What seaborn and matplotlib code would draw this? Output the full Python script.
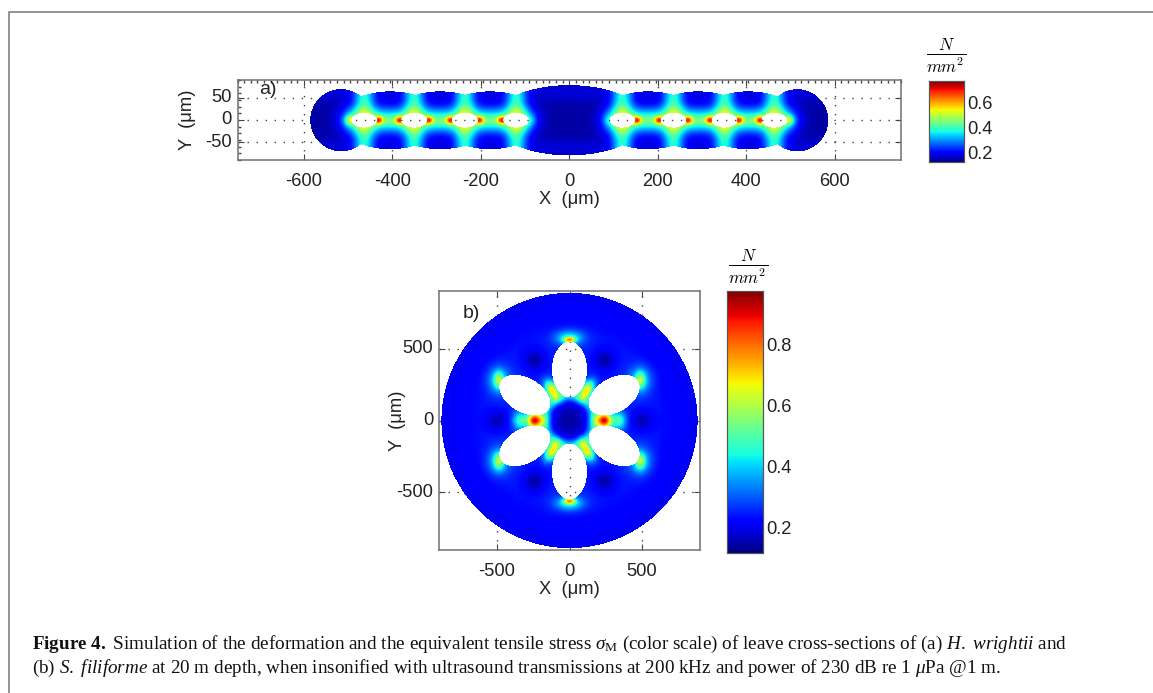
import numpy as np
import pandas as pd
import matplotlib
matplotlib.use("Agg")
import matplotlib.pyplot as plt
from matplotlib.lines import Line2D
from matplotlib.ticker import FixedLocator
import seaborn as sns

# ---------- values ----------
# panel a: lobed outline (centre, semi-axis x, semi-axis y), µm
a_lobe_x = [-516, -405, -292, -179, 0, 179, 292, 405, 516]
a_lobe_ax = [70, 118, 118, 118, 173, 118, 118, 118, 70]
a_lobe_ay = [70, 65, 65, 65, 79, 65, 65, 65, 70]
# panel a: holes
a_hole_x = [-464, -351, -236, -120, 120, 236, 351, 464]
a_hole_ax = 29
a_hole_ay = 16.5
# panel a: stress peaks: x, y, amplitude, sigma x, sigma y
a_peak_x = [-497, -431, -384, -318, -269, -203, -153, -87,
            87, 153, 203, 269, 318, 384, 431, 497,
            -408, -293, -178, 178, 293, 408]
a_peak_a = [0.16, 0.26, 0.26, 0.26, 0.26, 0.26, 0.26, 0.04,
            0.04, 0.26, 0.26, 0.26, 0.26, 0.26, 0.26, 0.16,
            0.04, 0.04, 0.04, 0.04, 0.04, 0.04]
a_peak_sx = [11, 10, 10, 10, 10, 10, 10, 10, 10, 10, 10, 10, 10, 10, 10, 11, 22, 22, 22, 22, 22, 22]
a_peak_sy = [11, 9, 9, 9, 9, 9, 9, 12, 12, 9, 9, 9, 9, 9, 9, 11, 12, 12, 12, 12, 12, 12]

# panel b: leaf disc and six holes (polar angle of the hole's long axis)
b_radius = 885
b_hole_r = 355
b_hole_ang = [90, 30, 150, 210, 270, 330]
b_hole_long = 192
b_hole_short = 119
# panel b: stress peaks: x, y, amp, sigma along, sigma across, rotation deg
b_peak_x = [240, -240, 240, -240, 345, -345,
            118, -118, 118, -118,
            0, 0, 0, 0,
            488, -488, 488, -488, 488, -488, 488, -488]
b_peak_y = [0, 0, 0, 0, 0, 0,
            212, 212, -212, -212,
            560, -560, 575, -575,
            282, 282, -282, -282, 282, 282, -282, -282]
b_peak_a = [0.42, 0.42, 0.26, 0.26, 0.18, 0.18,
            0.46, 0.46, 0.46, 0.46,
            0.36, 0.36, 0.20, 0.20,
            0.20, 0.20, 0.20, 0.20, 0.18, 0.18, 0.18, 0.18]
b_peak_sa = [44, 44, 90, 90, 48, 48,
             70, 70, 70, 70,
             38, 38, 95, 95,
             32, 32, 32, 32, 75, 75, 75, 75]
b_peak_sb = [60, 60, 60, 60, 70, 70,
             45, 45, 45, 45,
             20, 20, 50, 50,
             55, 55, 55, 55, 90, 90, 90, 90]
b_peak_rot = [0, 0, 0, 0, 0, 0,
              60, -60, -60, 60,
              0, 0, 0, 0,
              0, 0, 0, 0, 0, 0, 0, 0]
# panel b: low-stress spots
b_low_x = [500, -500, 240, -240, 240, -240, 0]
b_low_y = [0, 0, 420, 420, -420, -420, 0]
b_low_a = [0.09, 0.09, 0.10, 0.10, 0.10, 0.10, 0.06]
b_low_s = [75, 75, 75, 75, 75, 75, 110]
b_ring_r = 175
b_ring_w = 40
b_ring_a = 0.20

a_xticks = [-600, -400, -200, 0, 200, 400, 600]
a_yticks = [-50, 0, 50]
b_ticks = [-500, 0, 500]
a_cticks = [0.2, 0.4, 0.6]
b_cticks = [0.2, 0.4, 0.6, 0.8]
a_lim = (0.12, 0.77)
b_lim = (0.118, 0.977)
caption_1 = (r"$\mathbf{Figure\ 4.}$ Simulation of the deformation and the equivalent tensile "
             r"stress $\sigma_{\mathrm{M}}$ (color scale) of leave cross-sections of (a) "
             r"$\mathit{H.\ wrightii}$ and")
caption_2 = (r"(b) $\mathit{S.\ filiforme}$ at 20 m depth, when insonified with ultrasound "
             r"transmissions at 200 kHz and power of 230 dB re 1 $\mu$Pa @1 m.")

# ---------- style ----------
sns.set_theme(style="white")
plt.rcParams["font.family"] = ["Liberation Sans", "DejaVu Sans"]
plt.rcParams["axes.unicode_minus"] = False
plt.rcParams["mathtext.fontset"] = "custom"
plt.rcParams["mathtext.rm"] = "Liberation Serif"
plt.rcParams["mathtext.it"] = "Liberation Serif:italic"
plt.rcParams["mathtext.bf"] = "Liberation Serif:bold"

W, H = 1153, 693
fig = plt.figure(figsize=(W / 100, H / 100), dpi=100)
TXT = "#222222"
FS = 13.2


def px_axes(l, t, r, b):
    return fig.add_axes([l / W, 1 - b / H, (r - l) / W, (b - t) / H])


def gauss(u, v, su, sv):
    return np.exp(-(u / su) ** 2 - (v / sv) ** 2)


# ---------- panel a field ----------
ax_xlim, ax_ylim = 750, 90
nx, ny = 1326, 160
xa = (np.arange(nx) + 0.5) / nx * 2 * ax_xlim - ax_xlim
ya = ax_ylim - (np.arange(ny) + 0.5) / ny * 2 * ax_ylim
X, Y = np.meshgrid(xa, ya)
inside = np.zeros_like(X, bool)
for c, p, q in zip(a_lobe_x, a_lobe_ax, a_lobe_ay):
    inside |= ((X - c) / p) ** 2 + (Y / q) ** 2 <= 1
holes = np.zeros_like(X, bool)
Fa = 0.14 + 0.03 * np.exp(-(np.abs(Y) - 62) ** 2 / 500)
band = 0.5 * (np.tanh((np.abs(X) - 82) / 22) - np.tanh((np.abs(X) - 510) / 22))
Fa = Fa + 0.26 * band * np.exp(-(Y / 30) ** 2)
for c in a_hole_x:
    holes |= ((X - c) / a_hole_ax) ** 2 + (Y / a_hole_ay) ** 2 <= 1
    Fa += 0.20 * np.exp(-((X - c) / 23) ** 2)
for px_, amp, sx, sy in zip(a_peak_x, a_peak_a, a_peak_sx, a_peak_sy):
    Fa += amp * gauss(X - px_, Y, sx, sy)
mask_a = ~inside | holes
dfa = pd.DataFrame(Fa, index=np.round(ya, 2), columns=np.round(xa, 2))

# ---------- panel b field ----------
b_lim_xy = 900
nb = 520
xb = (np.arange(nb) + 0.5) / nb * 2 * b_lim_xy - b_lim_xy
yb = b_lim_xy - (np.arange(nb) + 0.5) / nb * 2 * b_lim_xy
XB, YB = np.meshgrid(xb, yb)
RB = np.hypot(XB, YB)
Fb = 0.20 + 0.05 * np.exp(-((RB - 480) / 260) ** 2)
holes_b = np.zeros_like(XB, bool)
for ang in b_hole_ang:
    t = np.deg2rad(ang)
    cx, cy = b_hole_r * np.cos(t), b_hole_r * np.sin(t)
    u = (XB - cx) * np.cos(t) + (YB - cy) * np.sin(t)
    v = -(XB - cx) * np.sin(t) + (YB - cy) * np.cos(t)
    e = np.sqrt((u / b_hole_long) ** 2 + (v / b_hole_short) ** 2)
    holes_b |= e <= 1
Fb += b_ring_a * np.exp(-((RB - b_ring_r) / b_ring_w) ** 2)
for x0, y0, amp, sa, sb, rot in zip(b_peak_x, b_peak_y, b_peak_a, b_peak_sa, b_peak_sb, b_peak_rot):
    t = np.deg2rad(rot)
    u = (XB - x0) * np.cos(t) + (YB - y0) * np.sin(t)
    v = -(XB - x0) * np.sin(t) + (YB - y0) * np.cos(t)
    Fb += amp * gauss(u, v, sa, sb)
for x0, y0, amp, s in zip(b_low_x, b_low_y, b_low_a, b_low_s):
    Fb -= amp * gauss(XB - x0, YB - y0, s, s)
mask_b = (RB > b_radius) | holes_b
dfb = pd.DataFrame(Fb, index=np.round(yb, 2), columns=np.round(xb, 2))


# ---------- drawing ----------
def panel(rect, crect, df, mask, lim, cticks, xlim, ylim, xt, yt):
    ax = px_axes(*rect)
    cax = px_axes(*crect)
    n_y, n_x = df.shape
    sns.heatmap(df, ax=ax, cbar_ax=cax, mask=mask, cmap="jet", vmin=lim[0], vmax=lim[1],
                xticklabels=False, yticklabels=False,
                cbar_kws={"ticks": cticks})
    ax.set_xlabel("")
    ax.set_ylabel("")
    fx = lambda v: (v + xlim) / (2 * xlim) * n_x
    fy = lambda v: (ylim - v) / (2 * ylim) * n_y
    ax.set_xticks([fx(v) for v in xt])
    ax.set_xticklabels([str(v) for v in xt])
    ax.set_yticks([fy(v) for v in yt])
    ax.set_yticklabels([str(v) for v in yt], rotation=0, va="center")
    ax.set_axisbelow(True)
    ax.grid(True, color="#444444", lw=1, ls=(0, (1, 5.5)))
    ax.tick_params(axis="x", which="major", direction="in", length=4, width=0.8, color="#444444",
                   pad=9, labelsize=FS, labelcolor=TXT, bottom=True, top=True)
    ax.tick_params(axis="y", which="major", direction="in", length=4, width=0.8, color="#444444",
                   pad=4, labelsize=FS, labelcolor=TXT, left=True, right=True)
    for s in ax.spines.values():
        s.set_visible(True)
        s.set_color("#707070")
        s.set_linewidth(1.1)
    cax.tick_params(direction="in", length=2.5, width=0.7, color="#333333", right=True,
                    pad=2, labelsize=FS, labelcolor=TXT)
    cax.set_yticks(cticks)
    cax.set_yticklabels([f"{v:.1f}" for v in cticks])
    for s in cax.spines.values():
        s.set_visible(True)
        s.set_color("#555555")
        s.set_linewidth(0.8)
    return ax, cax, fx, fy


axa, caxa, fxa, fya = panel((237.5, 80, 901, 160), (929, 81, 964, 162), dfa, mask_a, a_lim, a_cticks,
                            ax_xlim, ax_ylim, a_xticks, a_yticks)
axb, caxb, _, _ = panel((439, 291, 700, 550), (727, 291, 763, 553), dfb, mask_b, b_lim, b_cticks,
                        b_lim_xy, b_lim_xy, b_ticks, b_ticks)

# dense minor ticks on the top and left of panel a
axa.xaxis.set_minor_locator(FixedLocator([fxa(v) for v in np.arange(-750, 751, 15)]))
axa.yaxis.set_minor_locator(FixedLocator([fya(v) for v in np.arange(-90, 91, 15)]))
axa.tick_params(axis="x", which="minor", direction="in", length=2, width=1, color="#444444",
                top=True, bottom=False)
axa.tick_params(axis="y", which="minor", direction="in", length=2, width=1, color="#444444",
                left=True, right=False)


def ftext(x, y, s, **kw):
    kw.setdefault("ha", "center")
    kw.setdefault("va", "center")
    kw.setdefault("color", TXT)
    kw.setdefault("fontsize", FS)
    return fig.text(x / W, 1 - y / H, s, **kw)


ftext(569, 199, "X  (\u03bcm)")
ftext(188, 120, "Y  (\u03bcm)", rotation=90)
ftext(569, 589, "X  (\u03bcm)")
ftext(397, 421, "Y  (\u03bcm)", rotation=90)
ftext(268, 90, "a)", fontsize=14)
ftext(471, 313, "b)", fontsize=14)
ftext(946, 56, r"$\frac{N}{mm^2}$", fontsize=17.5, math_fontfamily="cm", color="black")
ftext(748, 267, r"$\frac{N}{mm^2}$", fontsize=17.5, math_fontfamily="cm", color="black")

# page frame
fig.add_artist(Line2D([8.5 / W, 8.5 / W, 1], [0, 1 - 12 / H, 1 - 12 / H], color="#8a8a8a", lw=1.3,
                      transform=fig.transFigure))

# caption
ftext(32, 649, caption_1, ha="left", va="baseline", family=["Liberation Serif"], fontsize=13.75, color="#111111")
ftext(32, 673, caption_2, ha="left", va="baseline", family=["Liberation Serif"], fontsize=13.75, color="#111111")

fig.savefig("out.png", dpi=100, facecolor="white")
